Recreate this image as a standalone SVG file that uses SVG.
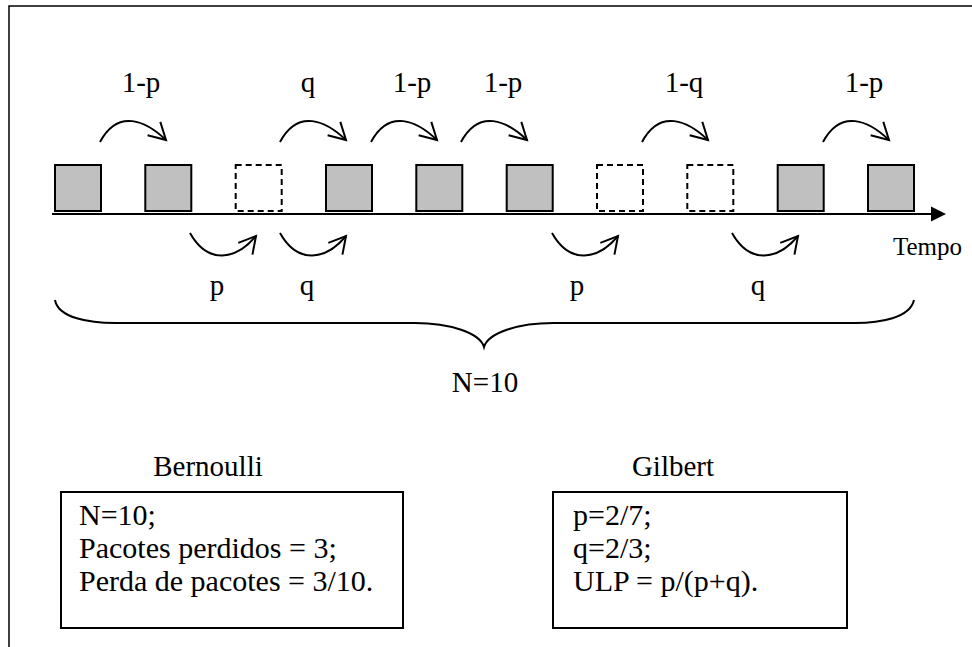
<svg xmlns="http://www.w3.org/2000/svg" width="972" height="647" viewBox="0 0 972 647">
  <style>
    text { font-family: "Liberation Serif", "Times New Roman", serif; fill: #000; }
    .lbl { font-size: 29px; text-anchor: middle; }
    .box-text { font-size: 30px; }
    .pkt { fill: #c0c0c0; stroke: #000; stroke-width: 2; }
    .lost { fill: none; stroke: #000; stroke-width: 2; stroke-dasharray: 6 4; }
    .arc { fill: none; stroke: #000; stroke-width: 2; marker-end: url(#vhead); }
    .frame { fill: none; stroke: #000; stroke-width: 1.5; }
  </style>
  <defs>
    <marker id="vhead" markerUnits="userSpaceOnUse" markerWidth="24" markerHeight="24" viewBox="-20 -12 24 24" refX="0" refY="0" orient="auto" overflow="visible">
      <path d="M-16.6,-9.2 L0,0 L-16.6,9.2" fill="none" stroke="#000" stroke-width="2"/>
    </marker>
  </defs>

  <rect width="972" height="647" fill="#fff"/>

  <!-- outer frame (continues past the right and bottom edges) -->
  <path class="frame" d="M9,647 V6 H972"/>

  <!-- time axis -->
  <g id="axis">
    <line x1="52" y1="214" x2="933" y2="214" stroke="#000" stroke-width="2"/>
    <polygon points="931,206.5 946,214 931,221.5" fill="#000"/>
    <text x="893" y="255" font-size="25">Tempo</text>
  </g>

  <!-- packets: received (grey) and lost (dashed) -->
  <g id="pkt1"><rect class="pkt" x="55" y="165" width="46" height="46"/></g>
  <g id="pkt2"><rect class="pkt" x="145.3" y="165" width="46" height="46"/></g>
  <g id="pkt3"><rect class="lost" x="235.7" y="165" width="46" height="46"/></g>
  <g id="pkt4"><rect class="pkt" x="326" y="165" width="46" height="46"/></g>
  <g id="pkt5"><rect class="pkt" x="416.3" y="165" width="46" height="46"/></g>
  <g id="pkt6"><rect class="pkt" x="506.7" y="165" width="46" height="46"/></g>
  <g id="pkt7"><rect class="lost" x="597" y="165" width="46" height="46"/></g>
  <g id="pkt8"><rect class="lost" x="687.3" y="165" width="46" height="46"/></g>
  <g id="pkt9"><rect class="pkt" x="777.7" y="165" width="46" height="46"/></g>
  <g id="pkt10"><rect class="pkt" x="868" y="165" width="46" height="46"/></g>

  <!-- transitions -->
  <g id="connectors">
    <path class="arc" d="M100,142 c18,-34 46,-21 66,-2"/>
    <path class="arc" d="M280,142 c18,-34 46,-21 66,-2"/>
    <path class="arc" d="M371,142 c18,-34 46,-21 66,-2"/>
    <path class="arc" d="M461,142 c18,-34 46,-21 66,-2"/>
    <path class="arc" d="M642,142 c18,-34 46,-21 66,-2"/>
    <path class="arc" d="M823,142 c18,-34 46,-21 66,-2"/>

    <path class="arc" d="M190,233 c18,32 46,27 66,3"/>
    <path class="arc" d="M280,233 c18,32 46,27 66,3"/>
    <path class="arc" d="M552,233 c18,32 46,27 66,3"/>
    <path class="arc" d="M732,233 c18,32 46,27 66,3"/>
  </g>

  <!-- transition labels -->
  <g id="labels-top">
    <text class="lbl" x="141" y="92">1-p</text>
    <text class="lbl" x="308" y="92">q</text>
    <text class="lbl" x="412" y="92">1-p</text>
    <text class="lbl" x="503" y="92">1-p</text>
    <text class="lbl" x="684" y="92">1-q</text>
    <text class="lbl" x="864" y="92">1-p</text>
  </g>
  <g id="labels-bottom">
    <text class="lbl" x="217" y="295">p</text>
    <text class="lbl" x="307" y="295">q</text>
    <text class="lbl" x="577" y="295">p</text>
    <text class="lbl" x="758" y="295">q</text>
  </g>

  <!-- brace over the whole sequence -->
  <g id="brace">
    <path d="M55,300 C58,318 90,323 115,323 L415,323 C450,323 480,333 484,347 C488,333 518,323 553,323 L855,323 C880,323 910,318 914,300" fill="none" stroke="#000" stroke-width="2"/>
    <text class="lbl" x="485" y="392">N=10</text>
  </g>

  <!-- Bernoulli summary -->
  <g id="bernoulli">
    <text class="lbl" x="208" y="476">Bernoulli</text>
    <rect x="61" y="492" width="342" height="136" fill="#fff" stroke="#000" stroke-width="2"/>
    <text class="box-text" x="79" y="525">N=10;</text>
    <text class="box-text" x="79" y="558">Pacotes perdidos = 3;</text>
    <text class="box-text" x="79" y="591">Perda de pacotes = 3/10.</text>
  </g>

  <!-- Gilbert summary -->
  <g id="gilbert">
    <text class="lbl" x="673" y="476">Gilbert</text>
    <rect x="553" y="492" width="294" height="136" fill="#fff" stroke="#000" stroke-width="2"/>
    <text class="box-text" x="573" y="525">p=2/7;</text>
    <text class="box-text" x="573" y="558">q=2/3;</text>
    <text class="box-text" x="573" y="591">ULP = p/(p+q).</text>
  </g>
</svg>
